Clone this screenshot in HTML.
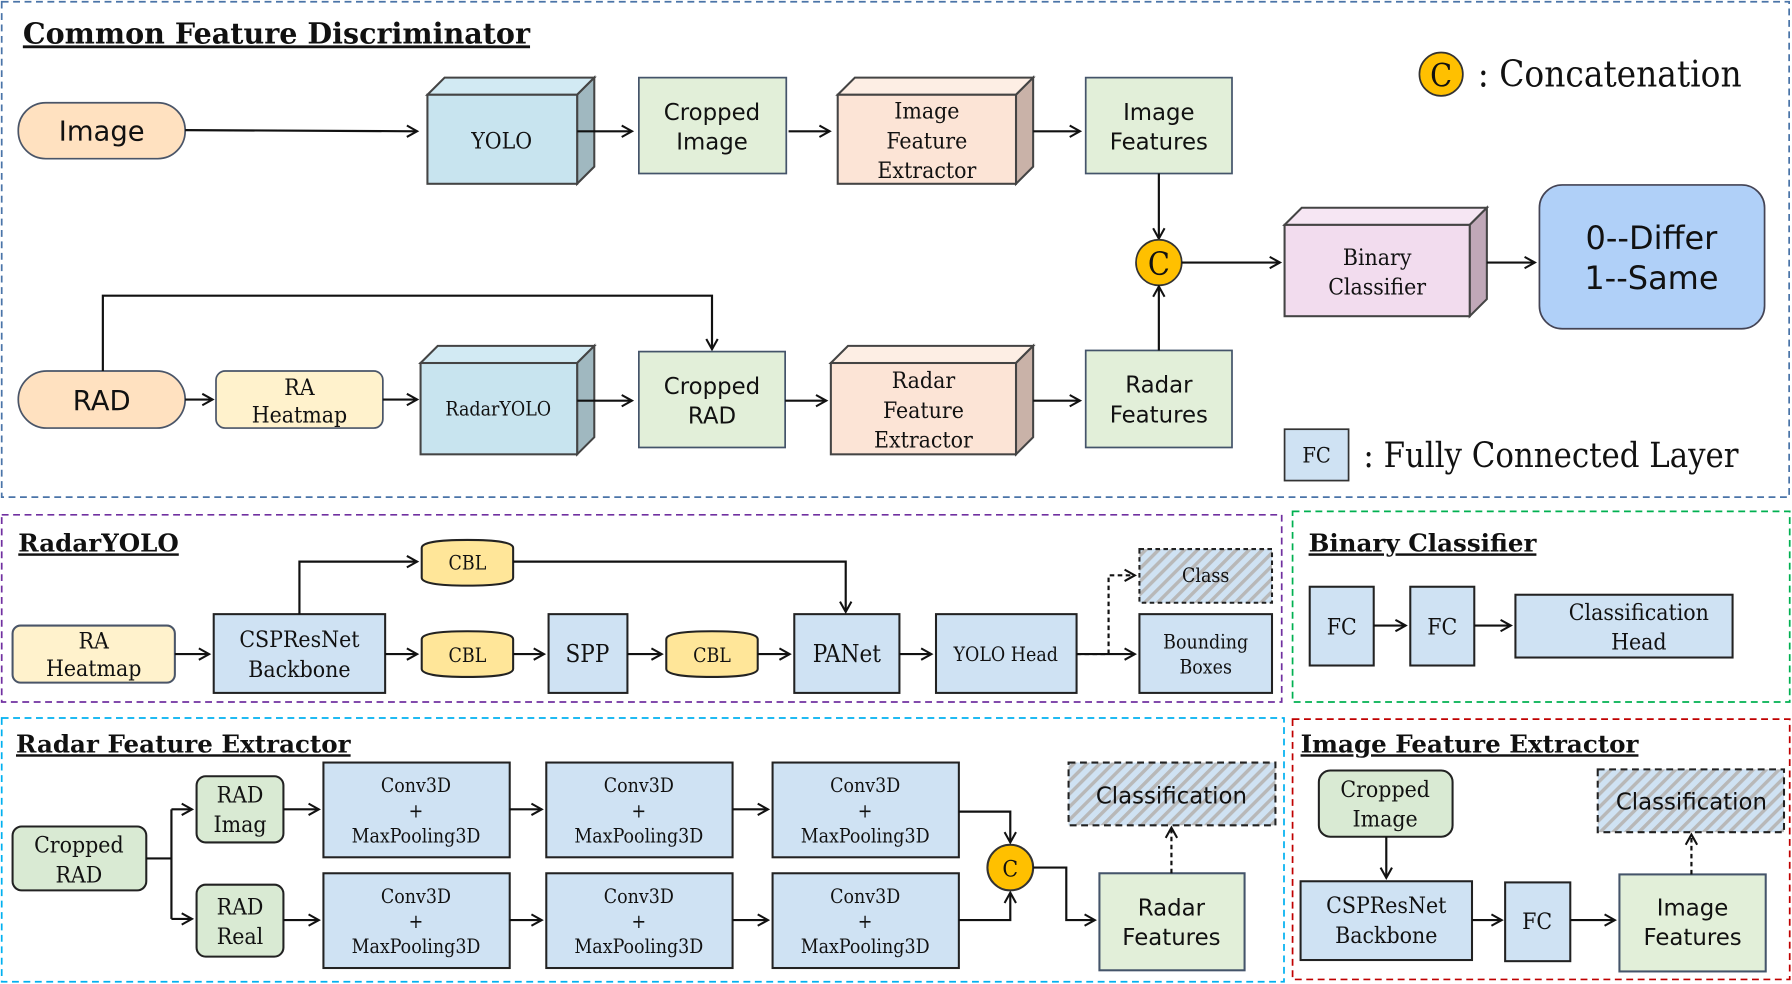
<!DOCTYPE html>
<html><head><meta charset="utf-8"><style>
html,body{margin:0;padding:0;background:#fff;width:1792px;height:984px;overflow:hidden}
svg{display:block}
.s{font-family:"DejaVu Serif Condensed","DejaVu Serif","Liberation Serif",serif;fill:#111}
.a{font-family:"DejaVu Sans","Liberation Sans",sans-serif;fill:#111}
.t{font-family:"DejaVu Serif","Liberation Serif",serif;font-weight:bold;fill:#111;text-decoration:underline}
.ln{stroke:#111;stroke-width:1.9;fill:none}
</style></head><body>
<svg width="1792" height="984" viewBox="0 0 1568 862" preserveAspectRatio="none" xmlns="http://www.w3.org/2000/svg">
<defs>
<marker id="ar" markerWidth="12" markerHeight="12" refX="10" refY="6" orient="auto" markerUnits="userSpaceOnUse"><path d="M1,1 L10,6 L1,11" fill="none" stroke="#111" stroke-width="1.8"/></marker>
<pattern id="h" width="8" height="8" patternUnits="userSpaceOnUse" patternTransform="rotate(45)"><rect width="8" height="8" fill="#cfe2f3"/><rect width="3" height="8" fill="#b8b8b8"/></pattern>
</defs>
<rect x="1.5" y="1.5" width="1564" height="434" fill="none" stroke="#4a74a8" stroke-width="1.5" stroke-dasharray="6,4"/>
<rect x="1.5" y="451" width="1120" height="164" fill="none" stroke="#7030a0" stroke-width="1.5" stroke-dasharray="6,4"/>
<rect x="1131" y="448" width="435" height="167" fill="none" stroke="#00b050" stroke-width="1.5" stroke-dasharray="6,4"/>
<rect x="1.5" y="629" width="1122" height="231" fill="none" stroke="#00b0f0" stroke-width="1.5" stroke-dasharray="6,4"/>
<rect x="1131" y="630" width="435" height="228" fill="none" stroke="#c00000" stroke-width="1.5" stroke-dasharray="6,4"/>
<text class="t" x="20" y="38" font-size="25">Common Feature Discriminator</text>
<text class="t" x="16" y="483" font-size="21.5">RadarYOLO</text>
<text class="t" x="1145" y="483" font-size="21.5">Binary Classifier</text>
<text class="t" x="14" y="659" font-size="21.5">Radar Feature Extractor</text>
<text class="t" x="1138" y="659" font-size="21.5">Image Feature Extractor</text>

<rect x="16" y="90" width="146" height="49" rx="24" fill="#ffe1c0" stroke="#4a5568" stroke-width="1.5"/>
<text class="a" x="89" y="123" font-size="24" text-anchor="middle">Image</text>
<line class="ln" x1="162" y1="114" x2="365" y2="115" marker-end="url(#ar)"/>
<g stroke="#444" stroke-width="1.8">
<path d="M374,83 L389,68 L520,68 L505,83Z" fill="#d2eaf3"/><path d="M505,83 L520,68 L520,146 L505,161Z" fill="#a0b8c0"/><rect x="374" y="83" width="131" height="78" fill="#c8e4ef"/>
<path d="M733,83 L748,68 L904,68 L889,83Z" fill="#fdeee4"/><path d="M889,83 L904,68 L904,146 L889,161Z" fill="#c9b2a8"/><rect x="733" y="83" width="156" height="78" fill="#fce4d6"/>
<path d="M1124,197 L1139,182 L1301,182 L1286,197Z" fill="#f6e6f3"/><path d="M1286,197 L1301,182 L1301,262 L1286,277Z" fill="#c0a8b8"/><rect x="1124" y="197" width="162" height="80" fill="#f2dcee"/>
<path d="M368,318 L383,303 L520,303 L505,318Z" fill="#d2eaf3"/><path d="M505,318 L520,303 L520,383 L505,398Z" fill="#a0b8c0"/><rect x="368" y="318" width="137" height="80" fill="#c8e4ef"/>
<path d="M727,318 L742,303 L904,303 L889,318Z" fill="#fdeee4"/><path d="M889,318 L904,303 L904,383 L889,398Z" fill="#c9b2a8"/><rect x="727" y="318" width="162" height="80" fill="#fce4d6"/>
</g>
<text class="s" x="439" y="130" font-size="20" text-anchor="middle">YOLO</text>
<line class="ln" x1="505" y1="115" x2="553" y2="115" marker-end="url(#ar)"/>
<rect x="559" y="68" width="129" height="84" fill="#e2efd9" stroke="#44546a" stroke-width="1.5"/>
<text class="a" x="623" y="105" font-size="20" text-anchor="middle">Cropped</text><text class="a" x="623" y="131" font-size="20" text-anchor="middle">Image</text>
<line class="ln" x1="690" y1="115" x2="726" y2="115" marker-end="url(#ar)"/>
<text class="s" x="811" y="104" font-size="20" text-anchor="middle">Image</text><text class="s" x="811" y="130" font-size="20" text-anchor="middle">Feature</text><text class="s" x="811" y="156" font-size="20" text-anchor="middle">Extractor</text>
<line class="ln" x1="904" y1="115" x2="945" y2="115" marker-end="url(#ar)"/>
<rect x="950" y="68" width="128" height="84" fill="#e2efd9" stroke="#44546a" stroke-width="1.5"/>
<text class="a" x="1014" y="105" font-size="20" text-anchor="middle">Image</text><text class="a" x="1014" y="131" font-size="20" text-anchor="middle">Features</text>
<line class="ln" x1="1014" y1="152" x2="1014" y2="209" marker-end="url(#ar)"/>
<circle cx="1014" cy="230" r="20" fill="#ffc000" stroke="#333" stroke-width="1.5"/>
<text class="s" x="1014" y="241" font-size="28" text-anchor="middle">C</text>
<line class="ln" x1="1034" y1="230" x2="1120" y2="230" marker-end="url(#ar)"/>
<text class="s" x="1205" y="232" font-size="20" text-anchor="middle">Binary</text><text class="s" x="1205" y="258" font-size="20" text-anchor="middle">Classifier</text>
<line class="ln" x1="1301" y1="230" x2="1343" y2="230" marker-end="url(#ar)"/>
<rect x="1347" y="162" width="197" height="126" rx="20" fill="#b0d0f8" stroke="#445" stroke-width="1.5"/>
<text class="a" x="1445" y="218" font-size="28" text-anchor="middle">0--Differ</text><text class="a" x="1445" y="253" font-size="28" text-anchor="middle">1--Same</text>
<circle cx="1261" cy="65" r="19" fill="#ffc000" stroke="#333" stroke-width="1.5"/>
<text class="s" x="1261" y="76" font-size="28" text-anchor="middle">C</text>
<text class="s" x="1293" y="76" font-size="32">: Concatenation</text>
<rect x="1124" y="376" width="56" height="45" fill="#cfe2f3" stroke="#333" stroke-width="1.5"/>
<text class="s" x="1152" y="405" font-size="19" text-anchor="middle">FC</text>
<text class="s" x="1193" y="409" font-size="30">: Fully Connected Layer</text>

<rect x="16" y="325" width="146" height="50" rx="25" fill="#ffe1c0" stroke="#4a5568" stroke-width="1.5"/>
<text class="a" x="89" y="359" font-size="24" text-anchor="middle">RAD</text>
<polyline class="ln" points="90,325 90,259 623,259 623,306" marker-end="url(#ar)"/>
<line class="ln" x1="162" y1="350" x2="186" y2="350" marker-end="url(#ar)"/>
<rect x="189" y="325" width="146" height="50" rx="8" fill="#fff2cc" stroke="#4a5568" stroke-width="1.5"/>
<text class="s" x="262" y="346" font-size="20" text-anchor="middle">RA</text><text class="s" x="262" y="370" font-size="20" text-anchor="middle">Heatmap</text>
<line class="ln" x1="335" y1="350" x2="365" y2="350" marker-end="url(#ar)"/>
<text class="s" x="436" y="364" font-size="17" text-anchor="middle">RadarYOLO</text>
<line class="ln" x1="505" y1="351" x2="553" y2="351" marker-end="url(#ar)"/>
<rect x="559" y="308" width="128" height="84" fill="#e2efd9" stroke="#44546a" stroke-width="1.5"/>
<text class="a" x="623" y="345" font-size="20" text-anchor="middle">Cropped</text><text class="a" x="623" y="371" font-size="20" text-anchor="middle">RAD</text>
<line class="ln" x1="687" y1="351" x2="723" y2="351" marker-end="url(#ar)"/>
<text class="s" x="808" y="340" font-size="20" text-anchor="middle">Radar</text><text class="s" x="808" y="366" font-size="20" text-anchor="middle">Feature</text><text class="s" x="808" y="392" font-size="20" text-anchor="middle">Extractor</text>
<line class="ln" x1="904" y1="351" x2="945" y2="351" marker-end="url(#ar)"/>
<rect x="950" y="307" width="128" height="85" fill="#e2efd9" stroke="#44546a" stroke-width="1.5"/>
<text class="a" x="1014" y="344" font-size="20" text-anchor="middle">Radar</text><text class="a" x="1014" y="370" font-size="20" text-anchor="middle">Features</text>
<line class="ln" x1="1014" y1="307" x2="1014" y2="251" marker-end="url(#ar)"/>

<g stroke="#222" stroke-width="1.8">
<rect x="11" y="548" width="142" height="50" rx="7" fill="#fff2cc" stroke="#4a5568"/>
<rect x="187" y="538" width="150" height="69" fill="#cfe2f3"/>
<rect x="480" y="538" width="69" height="69" fill="#cfe2f3"/>
<rect x="695" y="538" width="92" height="69" fill="#cfe2f3"/>
<rect x="819" y="538" width="123" height="69" fill="#cfe2f3"/>
<rect x="997" y="538" width="116" height="69" fill="#cfe2f3"/>
<rect x="997" y="481" width="116" height="47" fill="url(#h)" stroke-dasharray="4,3"/>
<path d="M369,480 Q369,473 409,473 Q449,473 449,480 L449,506 Q449,513 409,513 Q369,513 369,506Z" fill="#ffe699"/>
<path d="M369,560 Q369,553 409,553 Q449,553 449,560 L449,586 Q449,593 409,593 Q369,593 369,586Z" fill="#ffe699"/>
<path d="M583,560 Q583,553 623,553 Q663,553 663,560 L663,586 Q663,593 623,593 Q583,593 583,586Z" fill="#ffe699"/>
</g>
<text class="s" x="82" y="568" font-size="20" text-anchor="middle">RA</text><text class="s" x="82" y="592" font-size="20" text-anchor="middle">Heatmap</text>
<line class="ln" x1="153" y1="573" x2="183" y2="573" marker-end="url(#ar)"/>
<text class="s" x="262" y="567" font-size="20" text-anchor="middle">CSPResNet</text><text class="s" x="262" y="593" font-size="20" text-anchor="middle">Backbone</text>
<polyline class="ln" points="262,538 262,492 365,492" marker-end="url(#ar)"/>
<polyline class="ln" points="449,492 740,492 740,536" marker-end="url(#ar)"/>
<line class="ln" x1="337" y1="573" x2="365" y2="573" marker-end="url(#ar)"/>
<text class="s" x="409" y="499" font-size="17" text-anchor="middle">CBL</text>
<text class="s" x="409" y="580" font-size="17" text-anchor="middle">CBL</text>
<line class="ln" x1="449" y1="573" x2="476" y2="573" marker-end="url(#ar)"/>
<text class="s" x="514" y="580" font-size="21" text-anchor="middle">SPP</text>
<line class="ln" x1="549" y1="573" x2="579" y2="573" marker-end="url(#ar)"/>
<text class="s" x="623" y="580" font-size="17" text-anchor="middle">CBL</text>
<line class="ln" x1="663" y1="573" x2="691" y2="573" marker-end="url(#ar)"/>
<text class="s" x="741" y="580" font-size="21" text-anchor="middle">PANet</text>
<line class="ln" x1="787" y1="573" x2="815" y2="573" marker-end="url(#ar)"/>
<text class="s" x="880" y="579" font-size="17" text-anchor="middle">YOLO Head</text>
<line class="ln" x1="942" y1="573" x2="993" y2="573" marker-end="url(#ar)"/>
<polyline class="ln" points="942,573 970,573 970,504 993,504" stroke-dasharray="4,3" marker-end="url(#ar)"/>
<text class="s" x="1055" y="510" font-size="17" text-anchor="middle">Class</text>
<text class="s" x="1055" y="568" font-size="17" text-anchor="middle">Bounding</text><text class="s" x="1055" y="590" font-size="17" text-anchor="middle">Boxes</text>

<g stroke="#222" stroke-width="1.8" fill="#cfe2f3">
<rect x="1146" y="514" width="56" height="69"/><rect x="1234" y="514" width="56" height="69"/><rect x="1326" y="521" width="190" height="55"/>
</g>
<text class="s" x="1174" y="556" font-size="20" text-anchor="middle">FC</text>
<text class="s" x="1262" y="556" font-size="20" text-anchor="middle">FC</text>
<line class="ln" x1="1202" y1="548" x2="1230" y2="548" marker-end="url(#ar)"/>
<line class="ln" x1="1290" y1="548" x2="1322" y2="548" marker-end="url(#ar)"/>
<text class="s" x="1434" y="543" font-size="20" text-anchor="middle">Classification</text><text class="s" x="1434" y="569" font-size="20" text-anchor="middle">Head</text>

<g stroke="#222" stroke-width="1.8">
<rect x="11" y="724" width="117" height="56" rx="8" fill="#d9ead3"/>
<rect x="172" y="680" width="76" height="58" rx="8" fill="#d9ead3"/>
<rect x="172" y="775" width="76" height="63" rx="8" fill="#d9ead3"/>
<rect x="283" y="668" width="163" height="83" fill="#cfe2f3"/><rect x="478" y="668" width="163" height="83" fill="#cfe2f3"/><rect x="676" y="668" width="163" height="83" fill="#cfe2f3"/>
<rect x="283" y="765" width="163" height="83" fill="#cfe2f3"/><rect x="478" y="765" width="163" height="83" fill="#cfe2f3"/><rect x="676" y="765" width="163" height="83" fill="#cfe2f3"/>
<rect x="962" y="765" width="127" height="85" fill="#e2efd9" stroke="#44546a"/>
<rect x="935" y="668" width="181" height="55" fill="url(#h)" stroke-dasharray="6,4"/>
<circle cx="884" cy="760" r="20" fill="#ffc000" stroke="#333"/>
</g>
<text class="s" x="69" y="747" font-size="20" text-anchor="middle">Cropped</text><text class="s" x="69" y="773" font-size="20" text-anchor="middle">RAD</text>
<polyline class="ln" points="128,752 150,752"/>
<polyline class="ln" points="150,709 150,805"/>
<line class="ln" x1="150" y1="709" x2="168" y2="709" marker-end="url(#ar)"/>
<line class="ln" x1="150" y1="805" x2="168" y2="805" marker-end="url(#ar)"/>
<text class="s" x="210" y="703" font-size="20" text-anchor="middle">RAD</text><text class="s" x="210" y="729" font-size="20" text-anchor="middle">Imag</text>
<text class="s" x="210" y="801" font-size="20" text-anchor="middle">RAD</text><text class="s" x="210" y="827" font-size="20" text-anchor="middle">Real</text>
<line class="ln" x1="248" y1="709" x2="279" y2="709" marker-end="url(#ar)"/>
<line class="ln" x1="248" y1="806" x2="279" y2="806" marker-end="url(#ar)"/>
<line class="ln" x1="446" y1="709" x2="474" y2="709" marker-end="url(#ar)"/>
<line class="ln" x1="641" y1="709" x2="672" y2="709" marker-end="url(#ar)"/>
<line class="ln" x1="446" y1="806" x2="474" y2="806" marker-end="url(#ar)"/>
<line class="ln" x1="641" y1="806" x2="672" y2="806" marker-end="url(#ar)"/>
<g class="s" font-size="17" text-anchor="middle">
<text x="364" y="694">Conv3D</text><text x="364" y="716">+</text><text x="364" y="738">MaxPooling3D</text>
<text x="559" y="694">Conv3D</text><text x="559" y="716">+</text><text x="559" y="738">MaxPooling3D</text>
<text x="757" y="694">Conv3D</text><text x="757" y="716">+</text><text x="757" y="738">MaxPooling3D</text>
<text x="364" y="791">Conv3D</text><text x="364" y="813">+</text><text x="364" y="835">MaxPooling3D</text>
<text x="559" y="791">Conv3D</text><text x="559" y="813">+</text><text x="559" y="835">MaxPooling3D</text>
<text x="757" y="791">Conv3D</text><text x="757" y="813">+</text><text x="757" y="835">MaxPooling3D</text>
</g>
<polyline class="ln" points="839,711 884,711 884,738" marker-end="url(#ar)"/>
<polyline class="ln" points="839,806 884,806 884,782" marker-end="url(#ar)"/>
<text class="s" x="884" y="768" font-size="20" text-anchor="middle">C</text>
<polyline class="ln" points="904,760 933,760 933,806 958,806" marker-end="url(#ar)"/>
<text class="a" x="1025" y="802" font-size="20" text-anchor="middle">Radar</text><text class="a" x="1025" y="828" font-size="20" text-anchor="middle">Features</text>
<line class="ln" x1="1025" y1="765" x2="1025" y2="725" stroke-dasharray="4,3" marker-end="url(#ar)"/>
<text class="a" x="1025" y="704" font-size="20" text-anchor="middle">Classification</text>

<g stroke="#222" stroke-width="1.8">
<rect x="1154" y="675" width="117" height="58" rx="10" fill="#d9ead3"/>
<rect x="1138" y="772" width="150" height="69" fill="#cfe2f3"/>
<rect x="1317" y="773" width="57" height="69" fill="#cfe2f3"/>
<rect x="1417" y="766" width="128" height="85" fill="#e2efd9" stroke="#44546a"/>
<rect x="1398" y="674" width="163" height="55" fill="url(#h)" stroke-dasharray="6,4"/>
</g>
<text class="s" x="1212" y="698" font-size="20" text-anchor="middle">Cropped</text><text class="s" x="1212" y="724" font-size="20" text-anchor="middle">Image</text>
<line class="ln" x1="1213" y1="733" x2="1213" y2="769" marker-end="url(#ar)"/>
<text class="s" x="1213" y="800" font-size="20" text-anchor="middle">CSPResNet</text><text class="s" x="1213" y="826" font-size="20" text-anchor="middle">Backbone</text>
<line class="ln" x1="1288" y1="806" x2="1314" y2="806" marker-end="url(#ar)"/>
<text class="s" x="1345" y="814" font-size="20" text-anchor="middle">FC</text>
<line class="ln" x1="1374" y1="806" x2="1413" y2="806" marker-end="url(#ar)"/>
<text class="a" x="1481" y="802" font-size="20" text-anchor="middle">Image</text><text class="a" x="1481" y="828" font-size="20" text-anchor="middle">Features</text>
<line class="ln" x1="1480" y1="766" x2="1480" y2="731" stroke-dasharray="4,3" marker-end="url(#ar)"/>
<text class="a" x="1480" y="709" font-size="20" text-anchor="middle">Classification</text>
</svg>
</body></html>
